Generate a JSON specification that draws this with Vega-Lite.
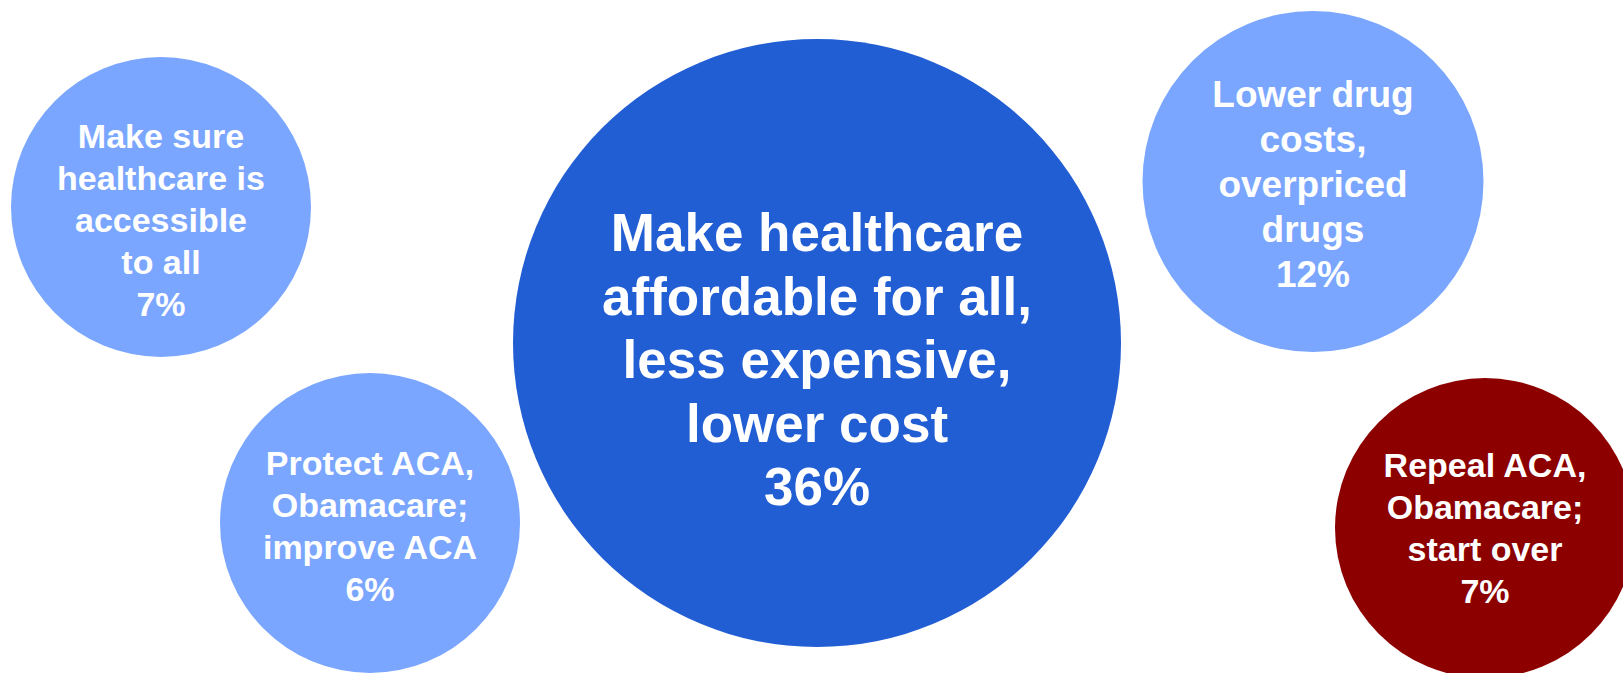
{
  "$schema": "https://vega.github.io/schema/vega-lite/v6.json",
  "width": 1623,
  "height": 673,
  "autosize": {"type": "none"},
  "padding": 0,
  "background": "white",
  "config": {"view": {"stroke": null}},
  "data": {
    "values": [
      {"id": "big", "group": "affordable", "label": "Make healthcare\naffordable for all,\nless expensive,\nlower cost\n36%", "pct": 36, "cx": 817, "cy": 343},
      {"id": "tl", "group": "access", "label": "Make sure\nhealthcare is\naccessible\nto all\n7%", "pct": 7, "cx": 161, "cy": 207},
      {"id": "tr", "group": "access", "label": "Lower drug\ncosts,\noverpriced\ndrugs\n12%", "pct": 12, "cx": 1313, "cy": 181.5},
      {"id": "bl", "group": "access", "label": "Protect ACA,\nObamacare;\nimprove ACA\n6%", "pct": 6, "cx": 370, "cy": 523},
      {"id": "red", "group": "repeal", "label": "Repeal ACA,\nObamacare;\nstart over\n7%", "pct": 7.01, "cx": 1485, "cy": 528}
    ]
  },
  "encoding": {
    "x": {"field": "cx", "type": "quantitative", "scale": {"domain": [0, 1623], "nice": false, "zero": false}, "axis": null},
    "y": {"field": "cy", "type": "quantitative", "scale": {"domain": [0, 673], "nice": false, "zero": false, "reverse": true}, "axis": null}
  },
  "layer": [
    {
      "mark": {"type": "circle", "opacity": 1},
      "encoding": {
        "size": {"field": "pct", "type": "quantitative", "scale": {"domain": [6, 7.01, 12, 36], "range": [90000, 90000, 116281, 369664]}, "legend": null},
        "color": {"field": "group", "type": "nominal", "scale": {"domain": ["affordable", "access", "repeal"], "range": ["#215DD3", "#7AA6FF", "#8C0000"]}, "legend": null}
      }
    },
    {
      "transform": [{"filter": "datum.id === 'big'"}],
      "mark": {"type": "text", "lineBreak": "\n", "font": "Liberation Sans", "fontWeight": "bold", "fontSize": 53, "lineHeight": 63.5, "color": "white", "align": "center", "baseline": "middle", "dy": -108},
      "encoding": {"text": {"field": "label"}}
    },
    {
      "transform": [{"filter": "datum.id === 'tl'"}],
      "mark": {"type": "text", "lineBreak": "\n", "font": "Liberation Sans", "fontWeight": "bold", "fontSize": 34, "lineHeight": 42, "color": "white", "align": "center", "baseline": "middle", "dy": -69},
      "encoding": {"text": {"field": "label"}}
    },
    {
      "transform": [{"filter": "datum.id === 'tr'"}],
      "mark": {"type": "text", "lineBreak": "\n", "font": "Liberation Sans", "fontWeight": "bold", "fontSize": 37, "lineHeight": 45, "color": "white", "align": "center", "baseline": "middle", "dy": -86},
      "encoding": {"text": {"field": "label"}}
    },
    {
      "transform": [{"filter": "datum.id === 'bl'"}],
      "mark": {"type": "text", "lineBreak": "\n", "font": "Liberation Sans", "fontWeight": "bold", "fontSize": 34, "lineHeight": 42, "color": "white", "align": "center", "baseline": "middle", "dy": -58},
      "encoding": {"text": {"field": "label"}}
    },
    {
      "transform": [{"filter": "datum.id === 'red'"}],
      "mark": {"type": "text", "lineBreak": "\n", "font": "Liberation Sans", "fontWeight": "bold", "fontSize": 34, "lineHeight": 42, "color": "white", "align": "center", "baseline": "middle", "dy": -61},
      "encoding": {"text": {"field": "label"}}
    }
  ],
  "resolve": {"scale": {"size": "independent"}}
}
